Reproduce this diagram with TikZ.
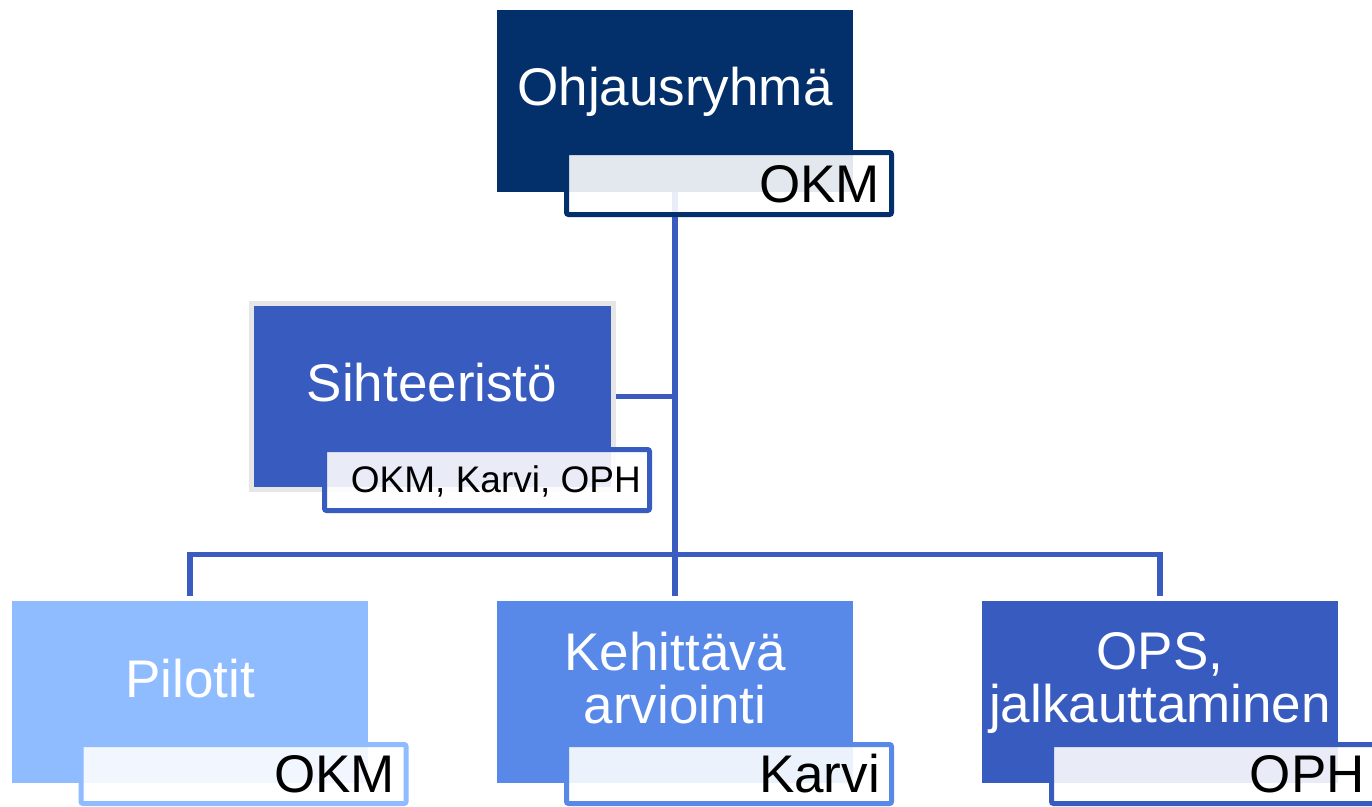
\documentclass[tikz,border=0pt]{standalone}
\usepackage{fontspec}
\setmainfont{Liberation Sans}
\definecolor{navy}{HTML}{03306B}
\definecolor{midblue}{HTML}{385BBF}
\definecolor{kehblue}{HTML}{5889E8}
\definecolor{pilblue}{HTML}{8FBCFF}
\definecolor{linecol}{HTML}{3A5CC0}
\definecolor{shadowgray}{HTML}{E6E6E6}
\begin{document}
\begin{tikzpicture}[x=1pt,y=-1pt,
  mainbox/.style={rectangle, inner sep=0pt, outer sep=0pt, minimum width=356pt, minimum height=182pt, anchor=north west},
  tagbox/.style={rectangle, rounded corners=2pt, inner sep=0pt, outer sep=0pt, line width=5pt, fill=white, fill opacity=0.89, minimum width=325pt, minimum height=59pt, anchor=north west},
  maintext/.style={text=white, inner sep=0pt, font=\fontsize{53}{53}\selectfont},
  tagtext/.style={text=black, inner sep=0pt, anchor=base east, font=\fontsize{53}{53}\selectfont},
  conn/.style={draw=linecol, line width=5.5pt}
]
\useasboundingbox (0,0) rectangle (1372,806);

% main boxes
\node[mainbox, fill=navy] (top) at (497,10) {};
\node[mainbox, fill=midblue, draw=shadowgray, line width=5pt, minimum width=362pt, minimum height=186pt] (sih) at (251.5,303.5) {};
\node[mainbox, fill=pilblue] (pil) at (12,601) {};
\node[mainbox, fill=kehblue] (keh) at (497,601) {};
\node[mainbox, fill=midblue] (ops) at (982,601) {};

% connectors
\coordinate (bus) at (675,554.5);
\draw[conn] (top.south) -- ([yshift=5pt]keh.north);
\draw[conn] ([xshift=2.5pt]sih.east) -- (sih.east -| top.south);
\draw[conn] ([yshift=5pt]pil.north) |- (bus) -| ([yshift=5pt]ops.north);

% tag boxes
\node[tagbox, draw=navy, minimum height=62pt] (toptag) at (566.5,152.5) {};
\node[tagbox, draw=midblue, minimum height=61pt] (sihtag) at (324.5,449.5) {};
\node[tagbox, draw=pilblue] (piltag) at (81,744.5) {};
\node[tagbox, draw=kehblue] (kehtag) at (566.5,744.5) {};
\node[tagbox, draw=midblue] (opstag) at (1051.5,744.5) {};

% texts
\node[maintext, anchor=base] (toptext) at (675,105) {Ohjausryhmä};
\node[maintext, anchor=base] (sihtext) at (432,401) {Sihteeristö};
\node[maintext, anchor=base] (piltext) at (190,697) {Pilotit};
\node[maintext, anchor=base, align=center] (kehtext) at (675,723) {Kehittävä\\arviointi};
\node[maintext, anchor=base, align=center] (opstext) at (1160,722) {OPS,\\jalkauttaminen};

\node[tagtext] (toptagtext) at (880,202) {OKM};
\node[tagtext, font=\fontsize{37}{37}\selectfont] (sihtagtext) at (641,492) {OKM, Karvi, OPH};
\node[tagtext] (piltagtext) at (395,792) {OKM};
\node[tagtext] (kehtagtext) at (880,792) {Karvi};
\node[tagtext] (opstagtext) at (1365,792) {OPH};
\end{tikzpicture}
\end{document}
